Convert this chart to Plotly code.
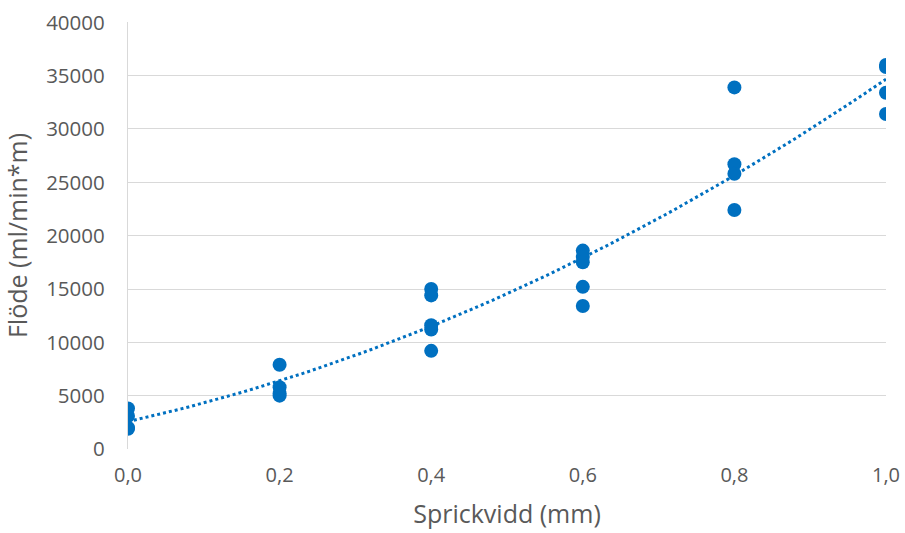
import numpy as np
import plotly.graph_objects as go

# Data
sprickvidd = [0.0, 0.0, 0.0, 0.0,
              0.2, 0.2, 0.2, 0.2,
              0.4, 0.4, 0.4, 0.4, 0.4,
              0.6, 0.6, 0.6, 0.6, 0.6,
              0.8, 0.8, 0.8, 0.8,
              1.0, 1.0, 1.0, 1.0]
flode = [3800, 3100, 2000, 1900,
         7900, 5800, 5200, 5000,
         15000, 14400, 11600, 11200, 9200,
         18600, 18000, 17500, 15200, 13400,
         33900, 26700, 25800, 22400,
         36000, 35800, 33400, 31400]

x_ticks = [0.0, 0.2, 0.4, 0.6, 0.8, 1.0]
y_ticks = [0, 5000, 10000, 15000, 20000, 25000, 30000, 35000, 40000]

# Polynomial (2nd order) trend line fitted to the data
coef = np.polyfit(sprickvidd, flode, 2)
xt = np.linspace(0, 1, 101)
yt = np.polyval(coef, xt)

blue = "#0070C0"
grey_text = "#595959"
grid = "#D9D9D9"
font = "Open Sans"

fig = go.Figure()
fig.add_trace(go.Scatter(x=xt, y=yt, mode="lines",
                         line=dict(color=blue, width=3, dash="dot"),
                         hoverinfo="skip", showlegend=False))
fig.add_trace(go.Scatter(x=sprickvidd, y=flode, mode="markers",
                         marker=dict(color=blue, size=14),
                         showlegend=False))

fig.update_layout(
    width=905, height=533,
    margin=dict(l=128, r=19, t=22, b=84, autoexpand=False),
    paper_bgcolor="white", plot_bgcolor="white",
    separators=", ",
    font=dict(family=font, color=grey_text, size=20),
)
fig.update_xaxes(
    range=[0, 1], tickvals=x_ticks, tickformat=".1f",
    showgrid=False, zeroline=False, showline=False,
    ticks="outside", ticklen=8, tickcolor="rgba(0,0,0,0)",
    tickfont=dict(size=20, color=grey_text), automargin=False,
    ticklabeloverflow="allow",
    title=dict(text="Sprickvidd (mm)", font=dict(size=25, color=grey_text), standoff=18),
)
fig.update_yaxes(
    range=[0, 40030], tickvals=y_ticks, tickformat="d",
    showgrid=True, gridcolor=grid, gridwidth=1.3,
    zeroline=False, showline=True, linecolor=grid, linewidth=1.3,
    ticks="outside", ticklen=18, tickcolor="rgba(0,0,0,0)",
    tickfont=dict(size=20.5, color=grey_text), automargin=True,
    ticklabeloverflow="allow",
    title=dict(text="Flöde (ml/min*m)", font=dict(size=25, color=grey_text), standoff=11),
)

fig.write_html("out.html",
               config={"displayModeBar": False},
               post_script="document.body.style.margin='0';document.body.style.overflow='hidden';")
